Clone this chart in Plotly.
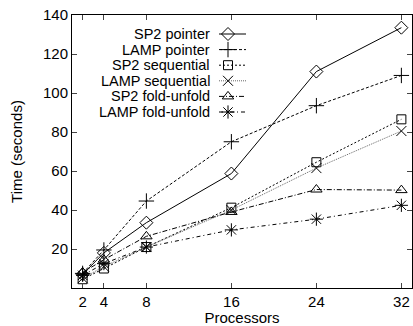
import plotly.graph_objects as go

processors = [2, 4, 8, 16, 24, 32]
sp2_pointer = [7, 18, 33.5, 58.7, 111, 133.5]
lamp_pointer = [7.5, 19.5, 44.6, 75, 93.5, 109]
sp2_sequential = [4.5, 10, 21, 41.2, 64.5, 86.5]
lamp_sequential = [5, 11, 21, 40, 61.5, 80.5]
sp2_foldunfold = [8, 14.5, 26.5, 39, 50.5, 50.2]
lamp_foldunfold = [6.5, 12.5, 21, 29.8, 35.3, 42.4]
y_ticks = [20, 40, 60, 80, 100, 120, 140]
series_names = ["SP2 pointer", "LAMP pointer", "SP2 sequential",
                "LAMP sequential", "SP2 fold-unfold", "LAMP fold-unfold"]
series_values = [sp2_pointer, lamp_pointer, sp2_sequential,
                 lamp_sequential, sp2_foldunfold, lamp_foldunfold]

styles = [
    ("solid", "diamond-open", "black", 10),
    ("3px,2px", "cross-thin-open", "black", 11),
    ("2px,2px", "square-open", "black", 9),
    ("1px,1px", "x-thin-open", "#666666", 10),
    ("5px,2px,1px,2px", "triangle-up-open", "black", 10),
    ("4px,3px,1px,3px", "asterisk-open", "black", 11),
]

W, H = 413, 326
L, R, T, B = 72, 1, 15, 38
font = "Liberation Sans, Arial, sans-serif"

fig = go.Figure()
for name, vals, (dash, sym, col, msize) in zip(series_names, series_values, styles):
    fig.add_trace(go.Scatter(
        x=processors, y=vals, name=name, mode="lines+markers", showlegend=False,
        line=dict(color=col, width=1, dash=dash),
        marker=dict(symbol=sym, size=msize, color="black", line=dict(width=1, color="black")),
    ))

# gnuplot-style key: right-aligned text, sample line + marker to the right
key_text_right = 211
key_line = (219, 246)
key_marker_x = 228
key_top = 34
key_step = 15.6
annotations = []
for i, (name, (dash, sym, col, msize)) in enumerate(zip(series_names, styles)):
    yy = key_top + i * key_step
    fig.add_trace(go.Scatter(
        x=list(key_line), y=[yy, yy], xaxis="x2", yaxis="y2", mode="lines",
        line=dict(color=col, width=1, dash=dash), showlegend=False, hoverinfo="skip"))
    fig.add_trace(go.Scatter(
        x=[key_marker_x], y=[yy], xaxis="x2", yaxis="y2", mode="markers",
        marker=dict(symbol=sym, size=msize, color="black", line=dict(width=1, color="black")),
        showlegend=False, hoverinfo="skip"))
    annotations.append(dict(x=key_text_right, y=yy, xref="x2", yref="y2", text=name,
                            showarrow=False, xanchor="right", yanchor="middle", borderpad=0,
                            font=dict(size=14.5, family=font, color="black")))

fig.update_layout(
    width=W, height=H,
    margin=dict(l=L, r=R, t=T, b=B),
    paper_bgcolor="white", plot_bgcolor="white",
    font=dict(family=font, size=15, color="black"),
    showlegend=False,
    annotations=annotations,
    xaxis=dict(range=[1, 33], tickvals=processors, ticks="inside", ticklen=5,
               showline=True, linecolor="black", linewidth=1, mirror="ticks",
               showgrid=False, zeroline=False,
               title=dict(text="Processors", standoff=0, font=dict(size=15))),
    yaxis=dict(range=[0, 140], tickvals=y_ticks, ticks="inside", ticklen=5,
               showline=True, linecolor="black", linewidth=1, mirror="ticks",
               showgrid=False, zeroline=False,
               title=dict(text="Time (seconds)", standoff=16, font=dict(size=15))),
    xaxis2=dict(overlaying="x", range=[L, W - R], visible=False, fixedrange=True),
    yaxis2=dict(overlaying="y", range=[H - B, T], visible=False, fixedrange=True),
)
fig.write_html("out.html")
